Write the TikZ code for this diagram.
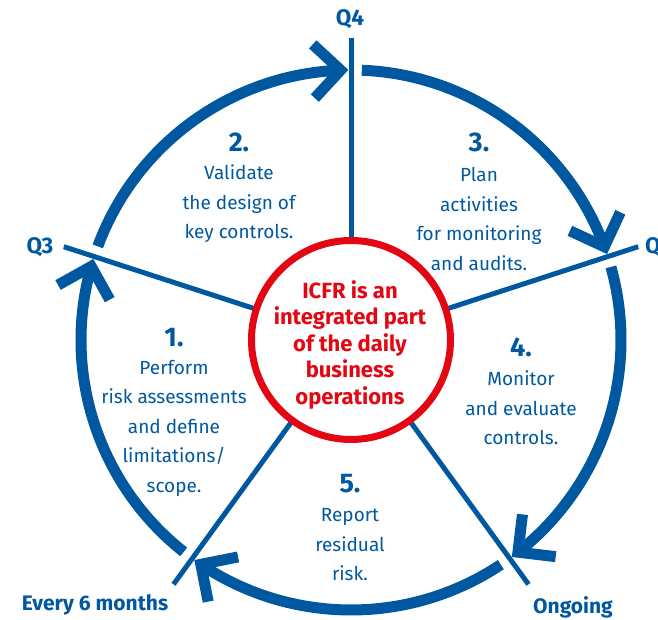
\documentclass[tikz,border=0pt]{standalone}
\usepackage{fontspec}
\setmainfont{Fira Sans}
\definecolor{icblue}{RGB}{0,88,160}
\definecolor{icred}{RGB}{227,6,19}
\begin{document}
\begin{tikzpicture}[x=1pt,y=1pt,
  spoke/.style={draw=icblue,line width=5},
  ring/.style={draw=icblue,line width=11,line cap=butt},
  chev/.style={draw=icblue,line width=11,line cap=butt,line join=miter},
  core/.style={circle,draw=icred,line width=7,fill=white,minimum size=199,inner sep=0,outer sep=0},
  coretext/.style={text=icred,font=\bfseries\fontsize{22}{26.5}\selectfont,align=center,inner sep=0},
  num/.style={text=icblue,font=\bfseries\fontsize{27}{30}\selectfont,inner sep=0},
  body/.style={text=icblue,font=\fontsize{19}{29.5}\selectfont,align=center,inner sep=0},
  qlab/.style={text=icblue,font=\bfseries\fontsize{22.5}{26}\selectfont,inner sep=0},
  tlab/.style={text=icblue,font=\bfseries\fontsize{21}{24}\selectfont,inner sep=0}]
\useasboundingbox (-351,-280) rectangle (307,340);
% spokes
\foreach \a/\n in {90/q4,162/q3,234/six,306/ongo,18/q1}{
  \coordinate (\n) at (\a:302);
  \draw[spoke] (\a:96) -- (\n);
}
% ring segments with chevron arrow heads
\foreach \s in {90,18,-54,-126,-198}{
  \pgfmathsetmacro\t{\s-72+2.2}
  \draw[ring] (\s-2.3:270) arc[start angle=\s-2.3,end angle=\t+0.5,radius=270];
  \draw[chev] (\t:270) ++(\t+45:38) -- (\t:270) -- ++(\t+135:38);
}
% centre
\node[core] (ctr) at (0,0) {};
\node[coretext] (ctrtxt) at (-1,-5) {ICFR is an\\integrated part\\of the daily\\business\\operations};
% labels at spoke ends
\node[qlab] (lq4) at (-1,321) {Q4};
\node[qlab] (lq3) at (-311,93) {Q3};
\node[qlab,anchor=west] (lq1) at (294,93) {Q1};
\node[tlab] (lsix) at (-256,-265) {Every 6 months};
\node[tlab] (longo) at (222,-267) {Ongoing};
% step texts
\node[num] (n2) at (-112,198) {2.};
\node[body] (b2) at (-112,136) {Validate\\the design of\\key controls.};
\node[num] (n3) at (128,198) {3.};
\node[body] (b3) at (128,121) {Plan\\activities\\for monitoring\\and audits.};
\node[num] (n1) at (-177,2) {1.};
\node[body] (b1) at (-177,-88) {Perform\\risk assessments\\and define\\limitations/\\scope.};
\node[num] (n4) at (170,-7) {4.};
\node[body] (b4) at (170,-68) {Monitor\\and evaluate\\controls.};
\node[num] (n5) at (-1,-144) {5.};
\node[body] (b5) at (-1,-205) {Report\\residual\\risk.};
\end{tikzpicture}
\end{document}
